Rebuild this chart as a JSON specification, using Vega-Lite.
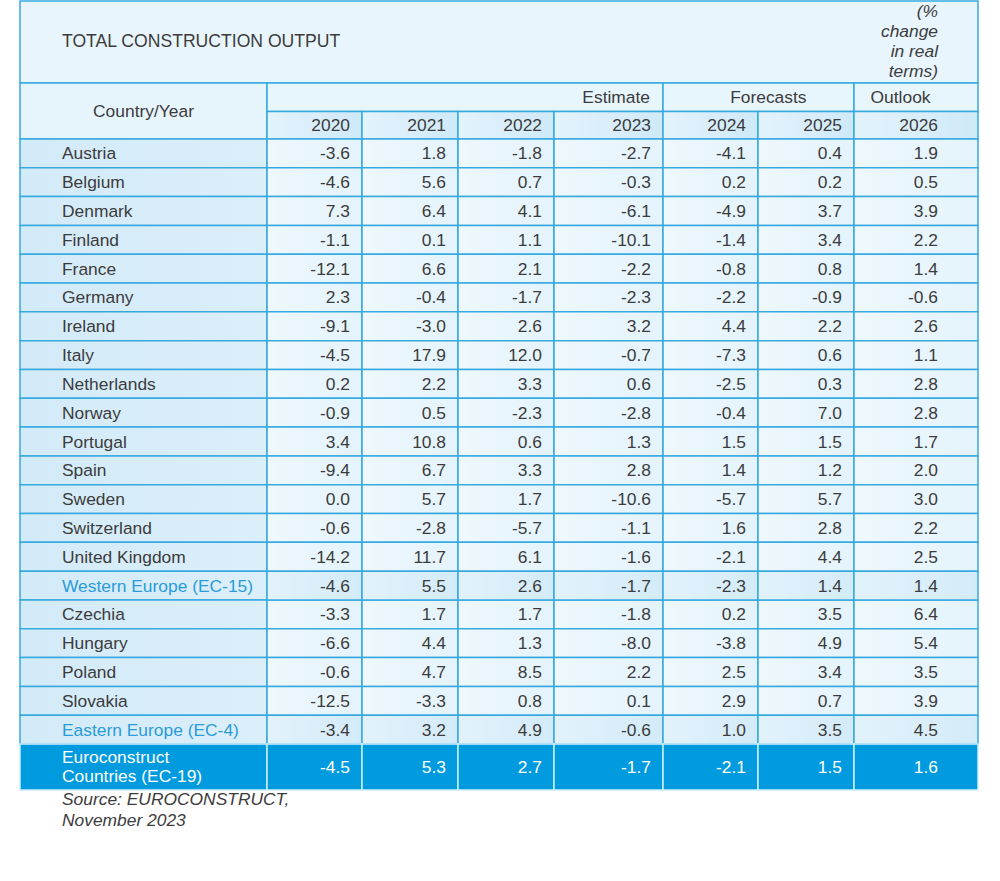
{
  "$schema": "https://vega.github.io/schema/vega-lite/v6.json",
  "width": 1000,
  "height": 881,
  "autosize": {"type": "none"},
  "padding": 0,
  "background": "#ffffff",
  "config": {
    "view": {"stroke": null},
    "locale": {"number": {"decimal": ".", "thousands": ",", "grouping": [3], "currency": ["$", ""], "minus": "-"}},
    "text": {"font": "Liberation Sans", "fontSize": 17.4, "color": "#3c3c3c"}
  },
  "datasets": {
    "rows": [
      {"country": "Austria", "g": "c", "y2020": -3.6, "y2021": 1.8, "y2022": -1.8, "y2023": -2.7, "y2024": -4.1, "y2025": 0.4, "y2026": 1.9},
      {"country": "Belgium", "g": "c", "y2020": -4.6, "y2021": 5.6, "y2022": 0.7, "y2023": -0.3, "y2024": 0.2, "y2025": 0.2, "y2026": 0.5},
      {"country": "Denmark", "g": "c", "y2020": 7.3, "y2021": 6.4, "y2022": 4.1, "y2023": -6.1, "y2024": -4.9, "y2025": 3.7, "y2026": 3.9},
      {"country": "Finland", "g": "c", "y2020": -1.1, "y2021": 0.1, "y2022": 1.1, "y2023": -10.1, "y2024": -1.4, "y2025": 3.4, "y2026": 2.2},
      {"country": "France", "g": "c", "y2020": -12.1, "y2021": 6.6, "y2022": 2.1, "y2023": -2.2, "y2024": -0.8, "y2025": 0.8, "y2026": 1.4},
      {"country": "Germany", "g": "c", "y2020": 2.3, "y2021": -0.4, "y2022": -1.7, "y2023": -2.3, "y2024": -2.2, "y2025": -0.9, "y2026": -0.6},
      {"country": "Ireland", "g": "c", "y2020": -9.1, "y2021": -3.0, "y2022": 2.6, "y2023": 3.2, "y2024": 4.4, "y2025": 2.2, "y2026": 2.6},
      {"country": "Italy", "g": "c", "y2020": -4.5, "y2021": 17.9, "y2022": 12.0, "y2023": -0.7, "y2024": -7.3, "y2025": 0.6, "y2026": 1.1},
      {"country": "Netherlands", "g": "c", "y2020": 0.2, "y2021": 2.2, "y2022": 3.3, "y2023": 0.6, "y2024": -2.5, "y2025": 0.3, "y2026": 2.8},
      {"country": "Norway", "g": "c", "y2020": -0.9, "y2021": 0.5, "y2022": -2.3, "y2023": -2.8, "y2024": -0.4, "y2025": 7.0, "y2026": 2.8},
      {"country": "Portugal", "g": "c", "y2020": 3.4, "y2021": 10.8, "y2022": 0.6, "y2023": 1.3, "y2024": 1.5, "y2025": 1.5, "y2026": 1.7},
      {"country": "Spain", "g": "c", "y2020": -9.4, "y2021": 6.7, "y2022": 3.3, "y2023": 2.8, "y2024": 1.4, "y2025": 1.2, "y2026": 2.0},
      {"country": "Sweden", "g": "c", "y2020": 0.0, "y2021": 5.7, "y2022": 1.7, "y2023": -10.6, "y2024": -5.7, "y2025": 5.7, "y2026": 3.0},
      {"country": "Switzerland", "g": "c", "y2020": -0.6, "y2021": -2.8, "y2022": -5.7, "y2023": -1.1, "y2024": 1.6, "y2025": 2.8, "y2026": 2.2},
      {"country": "United Kingdom", "g": "c", "y2020": -14.2, "y2021": 11.7, "y2022": 6.1, "y2023": -1.6, "y2024": -2.1, "y2025": 4.4, "y2026": 2.5},
      {"country": "Western Europe (EC-15)", "g": "a", "y2020": -4.6, "y2021": 5.5, "y2022": 2.6, "y2023": -1.7, "y2024": -2.3, "y2025": 1.4, "y2026": 1.4},
      {"country": "Czechia", "g": "c", "y2020": -3.3, "y2021": 1.7, "y2022": 1.7, "y2023": -1.8, "y2024": 0.2, "y2025": 3.5, "y2026": 6.4},
      {"country": "Hungary", "g": "c", "y2020": -6.6, "y2021": 4.4, "y2022": 1.3, "y2023": -8.0, "y2024": -3.8, "y2025": 4.9, "y2026": 5.4},
      {"country": "Poland", "g": "c", "y2020": -0.6, "y2021": 4.7, "y2022": 8.5, "y2023": 2.2, "y2024": 2.5, "y2025": 3.4, "y2026": 3.5},
      {"country": "Slovakia", "g": "c", "y2020": -12.5, "y2021": -3.3, "y2022": 0.8, "y2023": 0.1, "y2024": 2.9, "y2025": 0.7, "y2026": 3.9},
      {"country": "Eastern Europe (EC-4)", "g": "a", "y2020": -3.4, "y2021": 3.2, "y2022": 4.9, "y2023": -0.6, "y2024": 1.0, "y2025": 3.5, "y2026": 4.5},
      {"country": "Euroconstruct\nCountries (EC-19)", "g": "t", "y2020": -4.5, "y2021": 5.3, "y2022": 2.7, "y2023": -1.7, "y2024": -2.1, "y2025": 1.5, "y2026": 1.6}
    ],
    "cols": [
      {"key": "y2020", "label": "2020", "yr": 2020, "prev": 2019},
      {"key": "y2021", "label": "2021", "yr": 2021, "prev": 2020},
      {"key": "y2022", "label": "2022", "yr": 2022, "prev": 2021},
      {"key": "y2023", "label": "2023", "yr": 2023, "prev": 2022},
      {"key": "y2024", "label": "2024", "yr": 2024, "prev": 2023},
      {"key": "y2025", "label": "2025", "yr": 2025, "prev": 2024},
      {"key": "y2026", "label": "2026", "yr": 2026, "prev": 2025}
    ],
    "spans": [
      {"label": "Estimate", "from": 2019, "to": 2023},
      {"label": "Forecasts", "from": 2023, "to": 2025},
      {"label": "Outlook", "from": 2025, "to": 2026}
    ],
    "meta": [
      {"title": "TOTAL CONSTRUCTION OUTPUT", "unit": "(%\nchange\nin real\nterms)", "stub": "Country/Year", "source": "Source: EUROCONSTRUCT,\nNovember 2023"}
    ]
  },
  "resolve": {"scale": {"y": "independent"}},
  "layer": [
    {
      "data": {"name": "meta"},
      "encoding": {
        "y": {"datum": 0, "type": "quantitative", "scale": {"domain": [0, 1], "range": [1, 83], "zero": false, "nice": false}, "axis": null}
      },
      "layer": [
        {
          "mark": {"type": "rect", "fill": "#e8f5fc", "stroke": "#36a9df", "strokeWidth": 1.5},
          "encoding": {
            "x": {"datum": 2018, "type": "quantitative", "scale": {"domain": [2018, 2019, 2020, 2021, 2022, 2023, 2024, 2025, 2026], "range": [20, 267, 362, 458, 554, 663, 758, 854, 978], "zero": false, "nice": false}, "axis": null},
            "x2": {"datum": 2026},
            "y2": {"datum": 1}
          }
        },
        {
          "mark": {"type": "text", "align": "left", "baseline": "middle", "dx": 42, "fontSize": 17.6},
          "encoding": {
            "x": {"datum": 2018, "type": "quantitative", "axis": null},
            "y": {"datum": 0.5, "type": "quantitative", "axis": null},
            "text": {"field": "title"}
          }
        },
        {
          "mark": {"type": "text", "align": "right", "baseline": "middle", "dx": -40, "dy": -30.5, "fontStyle": "italic", "lineBreak": "\n", "lineHeight": 20.3},
          "encoding": {
            "x": {"datum": 2026, "type": "quantitative", "axis": null},
            "y": {"datum": 0.5, "type": "quantitative", "axis": null},
            "text": {"field": "unit"}
          }
        }
      ]
    },
    {
      "encoding": {
        "y": {"datum": 0, "type": "quantitative", "scale": {"domain": [0, 1, 2], "range": [83, 111.5, 139], "zero": false, "nice": false}, "axis": null}
      },
      "layer": [
        {
          "data": {"name": "meta"},
          "mark": {"type": "rect", "fill": "#e6f4fc", "stroke": "#36a9df", "strokeWidth": 1.5},
          "encoding": {
            "x": {"datum": 2018, "type": "quantitative", "axis": null},
            "x2": {"datum": 2019},
            "y2": {"datum": 2}
          }
        },
        {
          "data": {"name": "meta"},
          "mark": {"type": "text", "align": "center", "baseline": "middle", "dx": 123.5},
          "encoding": {
            "x": {"datum": 2018, "type": "quantitative", "axis": null},
            "y": {"datum": 1, "type": "quantitative", "axis": null},
            "text": {"field": "stub"}
          }
        },
        {
          "data": {"name": "spans"},
          "mark": {"type": "rect", "fill": "#e7f5fc", "stroke": "#36a9df", "strokeWidth": 1.5},
          "encoding": {
            "x": {"field": "from", "type": "quantitative", "axis": null},
            "x2": {"field": "to"},
            "y2": {"datum": 1}
          }
        },
        {
          "data": {"name": "spans"},
          "transform": [{"filter": "datum.label === 'Estimate'"}],
          "mark": {"type": "text", "align": "right", "baseline": "middle", "dx": -13, "dy": 1},
          "encoding": {
            "x": {"field": "to", "type": "quantitative", "axis": null},
            "y": {"datum": 0.5, "type": "quantitative", "axis": null},
            "text": {"field": "label"}
          }
        },
        {
          "data": {"name": "spans"},
          "transform": [{"filter": "datum.label !== 'Estimate'"}],
          "mark": {"type": "text", "align": "right", "baseline": "middle", "dx": -47.5, "dy": 1},
          "encoding": {
            "x": {"field": "to", "type": "quantitative", "axis": null},
            "y": {"datum": 0.5, "type": "quantitative", "axis": null},
            "text": {"field": "label"}
          }
        },
        {
          "data": {"name": "cols"},
          "mark": {"type": "rect", "stroke": "#36a9df", "strokeWidth": 1.5,
            "fill": {"gradient": "linear", "x1": 0, "y1": 0, "x2": 1, "y2": 0, "stops": [{"offset": 0, "color": "#e3f3fc"}, {"offset": 1, "color": "#cfe9f8"}]}},
          "encoding": {
            "x": {"field": "prev", "type": "quantitative", "axis": null},
            "x2": {"field": "yr"},
            "y": {"datum": 1, "type": "quantitative", "axis": null},
            "y2": {"datum": 2}
          }
        },
        {
          "data": {"name": "cols"},
          "transform": [{"filter": "datum.yr !== 2026"}],
          "mark": {"type": "text", "align": "right", "baseline": "middle", "dx": -12, "dy": 1},
          "encoding": {
            "x": {"field": "yr", "type": "quantitative", "axis": null},
            "y": {"datum": 1.5, "type": "quantitative", "axis": null},
            "text": {"field": "label"}
          }
        },
        {
          "data": {"name": "cols"},
          "transform": [{"filter": "datum.yr === 2026"}],
          "mark": {"type": "text", "align": "right", "baseline": "middle", "dx": -40, "dy": 1},
          "encoding": {
            "x": {"field": "yr", "type": "quantitative", "axis": null},
            "y": {"datum": 1.5, "type": "quantitative", "axis": null},
            "text": {"field": "label"}
          }
        }
      ]
    },
    {
      "data": {"name": "rows"},
      "transform": [{"filter": "datum.g !== 't'"}],
      "encoding": {
        "y": {"field": "country", "type": "nominal", "sort": null, "scale": {"type": "band", "range": [139, 744], "paddingInner": 0, "paddingOuter": 0}, "axis": null}
      },
      "layer": [
        {
          "mark": {"type": "rect", "stroke": "#36a9df", "strokeWidth": 1.5,
            "fill": {"gradient": "linear", "x1": 0, "y1": 0, "x2": 1, "y2": 0, "stops": [{"offset": 0, "color": "#d3eaf8"}, {"offset": 1, "color": "#dbeffa"}]}},
          "encoding": {
            "x": {"datum": 2018, "type": "quantitative", "axis": null},
            "x2": {"datum": 2019}
          }
        },
        {
          "mark": {"type": "text", "align": "left", "baseline": "middle", "dx": 42, "dy": 1},
          "encoding": {
            "x": {"datum": 2018, "type": "quantitative", "axis": null},
            "text": {"field": "country"},
            "color": {"condition": {"test": "datum.g === 'a'", "value": "#2a9cd7"}, "value": "#3c3c3c"}
          }
        },
        {
          "transform": [
            {"fold": ["y2020", "y2021", "y2022", "y2023", "y2024", "y2025", "y2026"], "as": ["key", "value"]},
            {"lookup": "key", "from": {"data": {"name": "cols"}, "key": "key", "fields": ["yr", "prev"]}}
          ],
          "layer": [
            {
              "transform": [{"filter": "datum.g === 'c'"}],
              "mark": {"type": "rect", "stroke": "#36a9df", "strokeWidth": 1.5,
                "fill": {"gradient": "linear", "x1": 0, "y1": 0, "x2": 1, "y2": 0, "stops": [{"offset": 0, "color": "#eef8fd"}, {"offset": 1, "color": "#e4f3fc"}]}},
              "encoding": {
                "x": {"field": "prev", "type": "quantitative", "axis": null},
                "x2": {"field": "yr"}
              }
            },
            {
              "transform": [{"filter": "datum.g === 'a'"}],
              "mark": {"type": "rect", "stroke": "#36a9df", "strokeWidth": 1.5,
                "fill": {"gradient": "linear", "x1": 0, "y1": 0, "x2": 1, "y2": 0, "stops": [{"offset": 0, "color": "#e2f2fb"}, {"offset": 1, "color": "#d3ebf8"}]}},
              "encoding": {
                "x": {"field": "prev", "type": "quantitative", "axis": null},
                "x2": {"field": "yr"}
              }
            },
            {
              "transform": [{"filter": "datum.yr !== 2026"}],
              "mark": {"type": "text", "align": "right", "baseline": "middle", "dx": -12, "dy": 1},
              "encoding": {
                "x": {"field": "yr", "type": "quantitative", "axis": null},
                "text": {"field": "value", "type": "quantitative", "format": ".1f"}
              }
            },
            {
              "transform": [{"filter": "datum.yr === 2026"}],
              "mark": {"type": "text", "align": "right", "baseline": "middle", "dx": -40, "dy": 1},
              "encoding": {
                "x": {"field": "yr", "type": "quantitative", "axis": null},
                "text": {"field": "value", "type": "quantitative", "format": ".1f"}
              }
            }
          ]
        }
      ]
    },
    {
      "encoding": {
        "y": {"datum": 0, "type": "quantitative", "scale": {"domain": [0, 1], "range": [744, 790], "zero": false, "nice": false}, "axis": null}
      },
      "layer": [
        {
          "data": {"name": "rows"},
          "transform": [{"filter": "datum.g === 't'"}],
          "layer": [
            {
              "mark": {"type": "rect", "fill": "#009ade", "stroke": "#cdeefb", "strokeWidth": 1.5},
              "encoding": {
                "x": {"datum": 2018, "type": "quantitative", "axis": null},
                "x2": {"datum": 2019},
                "y2": {"datum": 1}
              }
            },
            {
              "mark": {"type": "text", "align": "left", "baseline": "middle", "dx": 42, "dy": -9.5, "color": "#ffffff", "lineBreak": "\n", "lineHeight": 19},
              "encoding": {
                "x": {"datum": 2018, "type": "quantitative", "axis": null},
                "y": {"datum": 0.5, "type": "quantitative", "axis": null},
                "text": {"field": "country"}
              }
            },
            {
              "transform": [
                {"fold": ["y2020", "y2021", "y2022", "y2023", "y2024", "y2025", "y2026"], "as": ["key", "value"]},
                {"lookup": "key", "from": {"data": {"name": "cols"}, "key": "key", "fields": ["yr", "prev"]}}
              ],
              "layer": [
                {
                  "mark": {"type": "rect", "fill": "#009ade", "stroke": "#cdeefb", "strokeWidth": 1.5},
                  "encoding": {
                    "x": {"field": "prev", "type": "quantitative", "axis": null},
                    "x2": {"field": "yr"},
                    "y2": {"datum": 1}
                  }
                },
                {
                  "transform": [{"filter": "datum.yr !== 2026"}],
                  "mark": {"type": "text", "align": "right", "baseline": "middle", "dx": -12, "dy": 1, "color": "#ffffff"},
                  "encoding": {
                    "x": {"field": "yr", "type": "quantitative", "axis": null},
                    "y": {"datum": 0.5, "type": "quantitative", "axis": null},
                    "text": {"field": "value", "type": "quantitative", "format": ".1f"}
                  }
                },
                {
                  "transform": [{"filter": "datum.yr === 2026"}],
                  "mark": {"type": "text", "align": "right", "baseline": "middle", "dx": -40, "dy": 1, "color": "#ffffff"},
                  "encoding": {
                    "x": {"field": "yr", "type": "quantitative", "axis": null},
                    "y": {"datum": 0.5, "type": "quantitative", "axis": null},
                    "text": {"field": "value", "type": "quantitative", "format": ".1f"}
                  }
                }
              ]
            }
          ]
        },
        {
          "data": {"name": "meta"},
          "mark": {"type": "text", "align": "left", "baseline": "middle", "dx": 42, "dy": 10, "fontStyle": "italic", "lineBreak": "\n", "lineHeight": 21},
          "encoding": {
            "x": {"datum": 2018, "type": "quantitative", "axis": null},
            "y": {"datum": 1, "type": "quantitative", "axis": null},
            "text": {"field": "source"}
          }
        }
      ]
    }
  ]
}
